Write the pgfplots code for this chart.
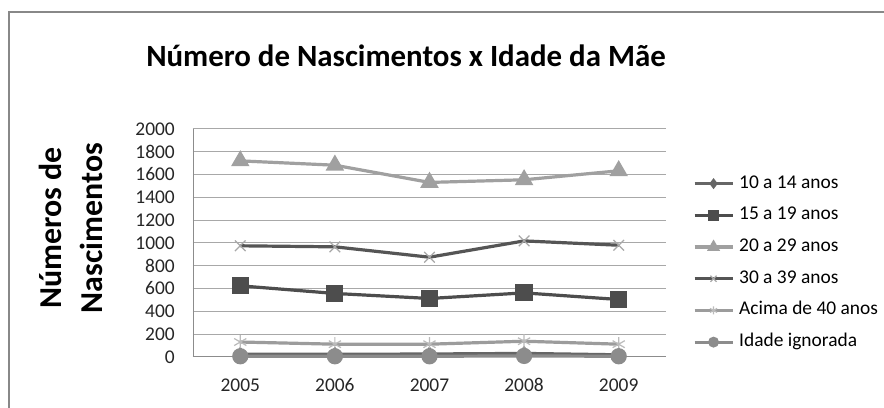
\documentclass[border=0pt]{standalone}
\usepackage{pgfplots}
\pgfplotsset{compat=1.18}
\usepackage{fontspec}
\setmainfont{Carlito}
\definecolor{frame}{HTML}{888888}
\definecolor{gridc}{HTML}{A8A8A8}
\definecolor{axisc}{HTML}{8C8C8C}
\definecolor{cA}{HTML}{666666}
\definecolor{cB}{HTML}{4D4D4D}
\definecolor{cC}{HTML}{A0A0A0}
\definecolor{cD}{HTML}{555555}
\definecolor{cDm}{HTML}{A8A8A8}
\definecolor{cE}{HTML}{9C9C9C}
\definecolor{cEm}{HTML}{BBBBBB}
\definecolor{cF}{HTML}{8C8C8C}
\begin{document}
\begin{tikzpicture}[x=1bp,y=1bp]
\useasboundingbox (0,0) rectangle (884,407);
\fill[white] (0,0) rectangle (884,407);
\draw[line width=2bp, color=frame] (9,-5) -- (9,395) -- (890,395);
\node[font=\bfseries\fontsize{31}{37}\selectfont, anchor=base] at (406,341) {Número de Nascimentos x Idade da Mãe};
\node[font=\bfseries\fontsize{32}{41}\selectfont, rotate=90, align=center] at (71,179) {Números de\\Nascimentos};
\begin{axis}[
  at={(204,44)}, anchor=south west,
  scale only axis, width=473bp, height=228bp,
  xmin=0.5, xmax=5.5, ymin=0, ymax=2000,
  xtick={1,2,3,4,5},
  xticklabels={2005,2006,2007,2008,2009},
  ytick={0,200,...,2000},
  /pgf/number format/assume math mode=true,
  /pgf/number format/set thousands separator={},
  axis x line*=bottom, axis y line*=left,
  axis line style={line width=0.8bp, color=axisc, -},
  major tick length=0pt,
  ymajorgrids,
  grid style={line width=0.8bp, color=gridc},
  tick label style={font=\fontsize{19.5}{19.5}\selectfont, color=black!85},
  yticklabel style={anchor=east, inner sep=0pt, xshift=-18bp},
  xticklabel style={anchor=base, inner sep=0pt, yshift=-35bp},
  clip=false,
  legend style={at={(1.057,0.797)}, anchor=north west, draw=none, fill=none,
    inner sep=0pt, outer sep=0pt, row sep=14.7bp, column sep=5bp,
    font=\fontsize{19.5}{19.5}\selectfont,
    nodes={font=\fontsize{19.5}{19.5}\selectfont, text height=13bp, text depth=4bp, inner sep=0pt}},
  legend cell align=left,
  legend image code/.code={\draw[mark repeat=2,mark phase=2, every mark/.append style={scale=0.58}] plot coordinates {(0bp,0bp) (19bp,0bp) (38bp,0bp)};},
  every axis plot/.append style={line width=3.2bp},
]
\addplot[color=cA, mark=diamond*, mark size=5bp] coordinates {(1,22) (2,22) (3,25) (4,30) (5,18)};
\addlegendentry{10 a 14 anos}
\addplot[color=cB, mark=square*, mark size=7bp] coordinates {(1,623) (2,556) (3,512) (4,561) (5,503)};
\addlegendentry{15 a 19 anos}
\addplot[color=cC, mark=triangle*, mark size=7.5bp] coordinates {(1,1719) (2,1681) (3,1530) (4,1553) (5,1632)};
\addlegendentry{20 a 29 anos}
\addplot[color=cD, mark=x, mark size=7.5bp, mark options={draw=cDm, line width=1.2bp}] coordinates {(1,974) (2,965) (3,874) (4,1017) (5,979)};
\addlegendentry{30 a 39 anos}
\addplot[color=cE, mark=asterisk, mark size=7bp, mark options={draw=cEm, line width=1.2bp}] coordinates {(1,130) (2,111) (3,111) (4,137) (5,111)};
\addlegendentry{Acima de 40 anos}
\addplot[color=cF, mark=*, mark size=6.5bp] coordinates {(1,5) (2,5) (3,5) (4,8) (5,5)};
\addlegendentry{Idade ignorada}
\end{axis}
\end{tikzpicture}
\end{document}
